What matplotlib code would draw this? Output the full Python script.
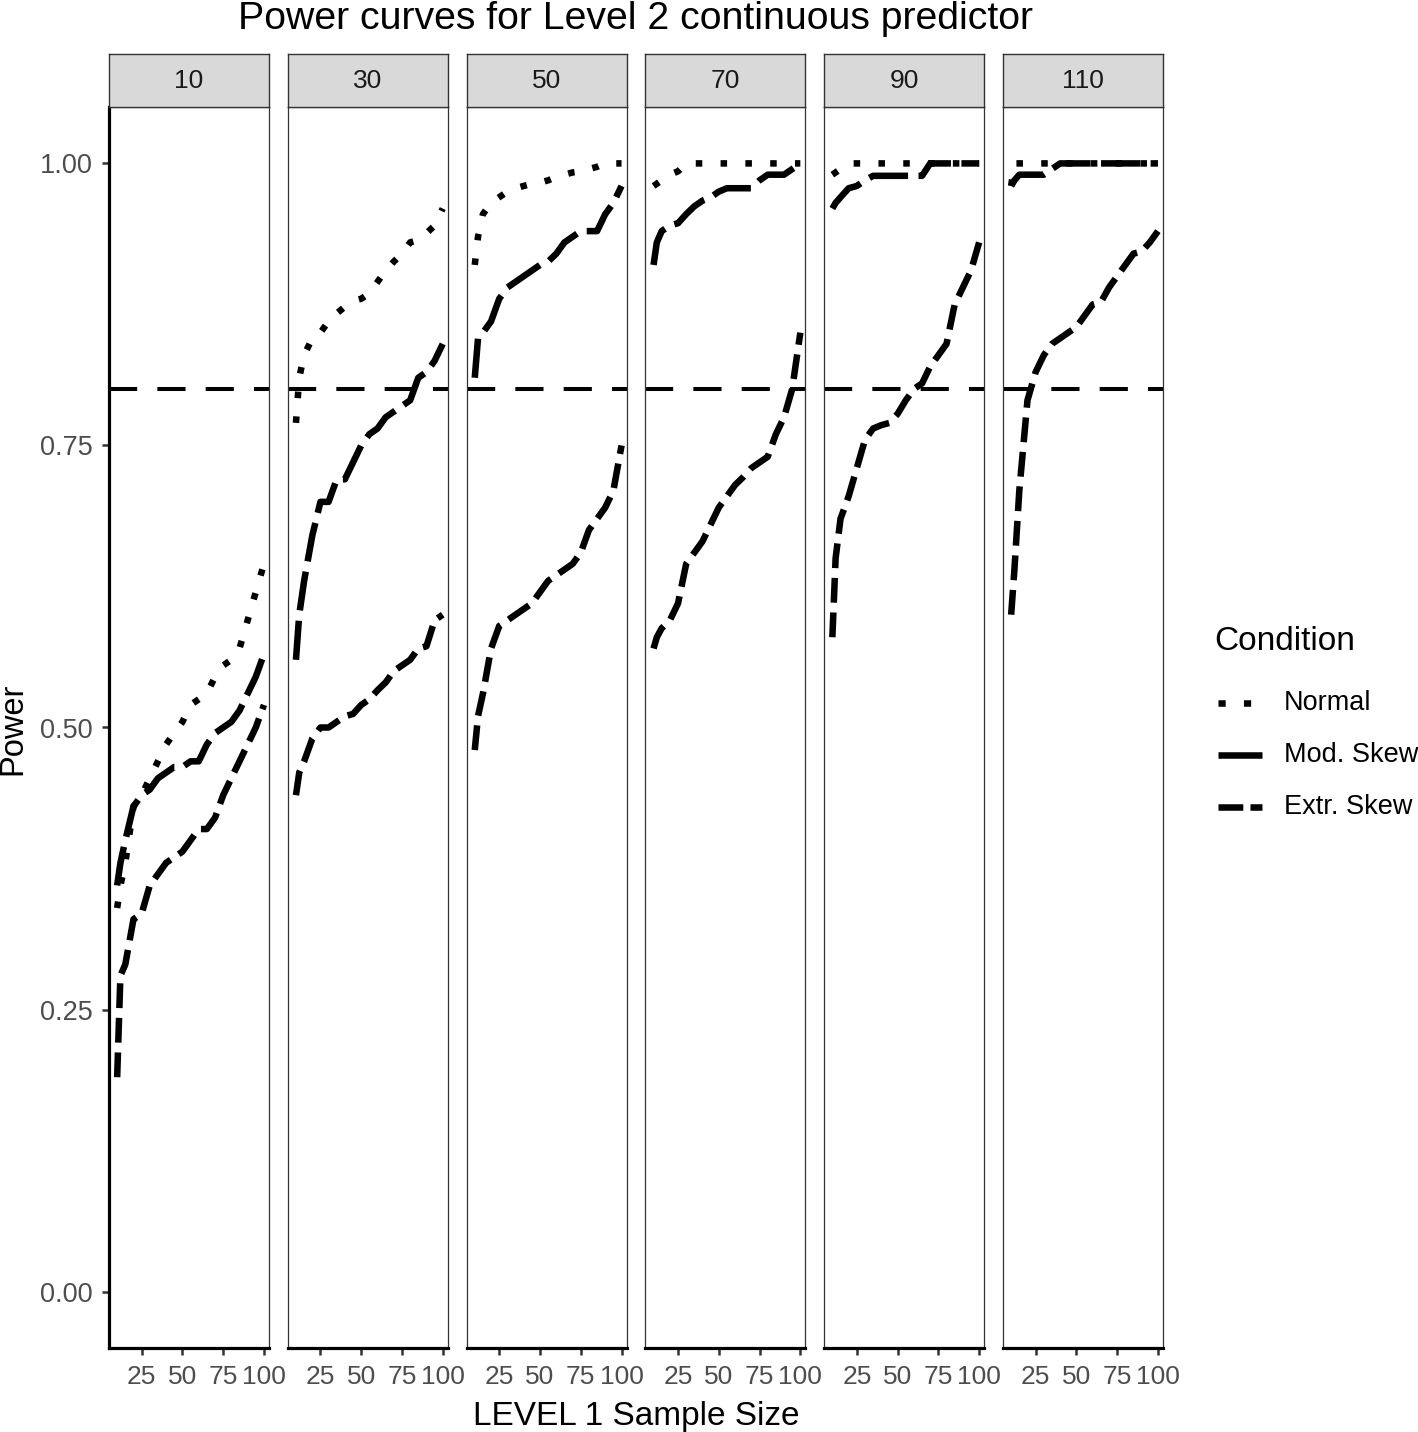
import matplotlib
matplotlib.use('Agg')
import matplotlib.pyplot as plt
from matplotlib.lines import Line2D

plt.rcParams['font.family'] = ['Liberation Sans', 'DejaVu Sans']

# Level 1 sample sizes (x) and Level 2 sample sizes (facets)
sample_sizes = [10, 12, 15, 20, 25, 30, 35, 40, 45, 50, 55, 60, 65, 70, 75, 80, 85, 90, 95, 100]
level2_sizes = [10, 30, 50, 70, 90, 110]
conditions = ['Normal', 'Mod. Skew', 'Extr. Skew']

# power, one list per facet and condition
normal_10 = [0.34, 0.36, 0.38, 0.43, 0.44, 0.455, 0.47, 0.485, 0.495, 0.505, 0.52, 0.525, 0.53, 0.545, 0.555, 0.56, 0.57, 0.595, 0.62, 0.645]
mod_10 = [0.36, 0.38, 0.40, 0.43, 0.44, 0.445, 0.455, 0.46, 0.465, 0.465, 0.47, 0.47, 0.485, 0.495, 0.50, 0.505, 0.515, 0.53, 0.545, 0.565]
extr_10 = [0.19, 0.28, 0.29, 0.33, 0.335, 0.36, 0.37, 0.38, 0.385, 0.39, 0.40, 0.41, 0.41, 0.42, 0.44, 0.455, 0.47, 0.485, 0.50, 0.52]

normal_30 = [0.77, 0.81, 0.83, 0.845, 0.85, 0.86, 0.867, 0.873, 0.878, 0.88, 0.885, 0.895, 0.905, 0.913, 0.92, 0.93, 0.932, 0.938, 0.945, 0.96]
mod_30 = [0.56, 0.60, 0.63, 0.67, 0.70, 0.70, 0.72, 0.72, 0.735, 0.75, 0.76, 0.765, 0.775, 0.78, 0.785, 0.79, 0.81, 0.815, 0.825, 0.84]
extr_30 = [0.44, 0.46, 0.47, 0.49, 0.50, 0.50, 0.505, 0.51, 0.512, 0.52, 0.525, 0.533, 0.54, 0.55, 0.555, 0.56, 0.57, 0.572, 0.595, 0.60]

normal_50 = [0.91, 0.935, 0.955, 0.965, 0.97, 0.975, 0.978, 0.98, 0.982, 0.983, 0.985, 0.988, 0.99, 0.992, 0.993, 0.995, 0.997, 1.0, 1.0, 1.0]
mod_50 = [0.81, 0.845, 0.85, 0.86, 0.88, 0.89, 0.895, 0.90, 0.905, 0.91, 0.913, 0.92, 0.93, 0.935, 0.94, 0.94, 0.94, 0.955, 0.965, 0.98]
extr_50 = [0.48, 0.51, 0.53, 0.57, 0.59, 0.595, 0.60, 0.605, 0.61, 0.62, 0.63, 0.635, 0.64, 0.645, 0.655, 0.675, 0.685, 0.695, 0.71, 0.75]

normal_70 = [0.98, 0.982, 0.985, 0.99, 0.993, 1.0, 1.0, 1.0, 1.0, 1.0, 1.0, 1.0, 1.0, 1.0, 1.0, 1.0, 1.0, 1.0, 1.0, 1.0]
mod_70 = [0.91, 0.93, 0.94, 0.945, 0.947, 0.955, 0.962, 0.967, 0.97, 0.975, 0.978, 0.978, 0.978, 0.978, 0.985, 0.99, 0.99, 0.99, 0.995, 1.0]
extr_70 = [0.57, 0.58, 0.588, 0.595, 0.61, 0.645, 0.655, 0.665, 0.68, 0.695, 0.705, 0.715, 0.722, 0.73, 0.735, 0.74, 0.76, 0.775, 0.80, 0.85]

normal_90 = [0.99, 0.992, 0.995, 1.0, 1.0, 1.0, 1.0, 1.0, 1.0, 1.0, 1.0, 1.0, 1.0, 1.0, 1.0, 1.0, 1.0, 1.0, 1.0, 1.0]
mod_90 = [0.96, 0.965, 0.97, 0.978, 0.98, 0.985, 0.989, 0.989, 0.989, 0.989, 0.989, 0.989, 0.989, 1.0, 1.0, 1.0, 1.0, 1.0, 1.0, 1.0]
extr_90 = [0.58, 0.65, 0.685, 0.705, 0.73, 0.755, 0.765, 0.768, 0.77, 0.778, 0.79, 0.80, 0.805, 0.82, 0.83, 0.84, 0.875, 0.89, 0.905, 0.93]

normal_110 = [0.98, 1.0, 1.0, 1.0, 1.0, 1.0, 1.0, 1.0, 1.0, 1.0, 1.0, 1.0, 1.0, 1.0, 1.0, 1.0, 1.0, 1.0, 1.0, 1.0]
mod_110 = [0.98, 0.985, 0.99, 0.99, 0.99, 0.99, 0.995, 1.0, 1.0, 1.0, 1.0, 1.0, 1.0, 1.0, 1.0, 1.0, 1.0, 1.0, 1.0, 1.0]
extr_110 = [0.60, 0.64, 0.71, 0.79, 0.815, 0.83, 0.84, 0.845, 0.85, 0.855, 0.865, 0.875, 0.877, 0.89, 0.90, 0.91, 0.92, 0.922, 0.93, 0.94]

panels = [
    [normal_10, mod_10, extr_10],
    [normal_30, mod_30, extr_30],
    [normal_50, mod_50, extr_50],
    [normal_70, mod_70, extr_70],
    [normal_90, mod_90, extr_90],
    [normal_110, mod_110, extr_110],
]

y_ticks = [0.0, 0.25, 0.5, 0.75, 1.0]
x_ticks = [25, 50, 75, 100]
target_power = 0.8

# line looks as drawn in the panels (legend keys differ, see below)
line_dash = {'Normal': (0, (1.0, 2.8)), 'Mod. Skew': (0, (6.0, 1.6)), 'Extr. Skew': (0, (3.8, 1.5))}
key_dash = {'Normal': (0, (1.1, 2.8)), 'Mod. Skew': '-', 'Extr. Skew': (0, (3.8, 1.1))}

W, H = 1418, 1432
fig = plt.figure(figsize=(W / 100, H / 100), dpi=100)


def box(left, top, width, height):
    return [left / W, 1 - (top + height) / H, width / W, height / H]


for i, (n2, series) in enumerate(zip(level2_sizes, panels)):
    left = 109 + i * 178.8
    ax = fig.add_axes(box(left, 107, 160, 1241))
    ax.set_xlim(5.0, 103.1)
    ax.set_ylim(-0.05, 1.05)
    ax.axhline(target_power, color='black', lw=2.9, linestyle=(0, (7, 5)), dash_capstyle='butt')
    for cond, vals in zip(conditions, series):
        ax.plot(sample_sizes, vals, color='black', lw=4.7, linestyle=line_dash[cond],
                dash_capstyle='butt', solid_capstyle='butt')

    for s in ['top', 'right', 'left']:
        ax.spines[s].set_color('#333333')
        ax.spines[s].set_linewidth(0.9)
    ax.spines['bottom'].set_color('black')
    ax.spines['bottom'].set_linewidth(2.3)

    ax.set_xticks(x_ticks)
    ax.set_xticklabels([str(t) for t in x_ticks])
    ax.tick_params(axis='x', length=5, width=1.8, color='#333333', labelsize=19,
                   labelcolor='#4D4D4D', pad=7)
    if i == 0:
        ax.spines['left'].set_color('black')
        ax.spines['left'].set_linewidth(2.3)
        ax.set_yticks(y_ticks)
        ax.set_yticklabels([f'{t:.2f}' for t in y_ticks])
        ax.tick_params(axis='y', length=5, width=1.8, color='#333333', labelsize=19.5,
                       labelcolor='#4D4D4D', pad=7)
    else:
        ax.set_yticks([])

    # facet strip
    strip = fig.add_axes(box(left, 54, 160, 53))
    strip.set_facecolor('#D9D9D9')
    strip.set_xticks([])
    strip.set_yticks([])
    for s in strip.spines.values():
        s.set_color('#333333')
        s.set_linewidth(1.0)
    strip.text(0.5, 0.5, str(n2), ha='center', va='center', fontsize=19, color='#1A1A1A',
               transform=strip.transAxes)

fig.text(636 / W, 1 - 29 / H, 'Power curves for Level 2 continuous predictor',
         ha='center', va='baseline', fontsize=28.3, color='black')
fig.text(636 / W, 1 - 1416 / H, 'LEVEL 1 Sample Size', ha='center', va='center',
         fontsize=24, color='black')
fig.text(13 / W, 1 - 729 / H, 'Power', ha='center', va='center', rotation=90,
         fontsize=23.5, color='black')

# legend drawn by hand so keys match the reference
fig.text(1214 / W, 1 - 642 / H, 'Condition', ha='left', va='center', fontsize=24, color='black')
for k, cond in enumerate(conditions):
    yk = 1 - (703 + k * 52) / H
    fig.add_artist(Line2D([1218 / W, 1262 / W], [yk, yk], color='black', lw=4.7,
                          linestyle=key_dash[cond], dash_capstyle='butt', solid_capstyle='butt'))
    fig.text(1284 / W, yk, cond, ha='left', va='center', fontsize=19.5, color='black')

fig.savefig('out.png', dpi=100)
